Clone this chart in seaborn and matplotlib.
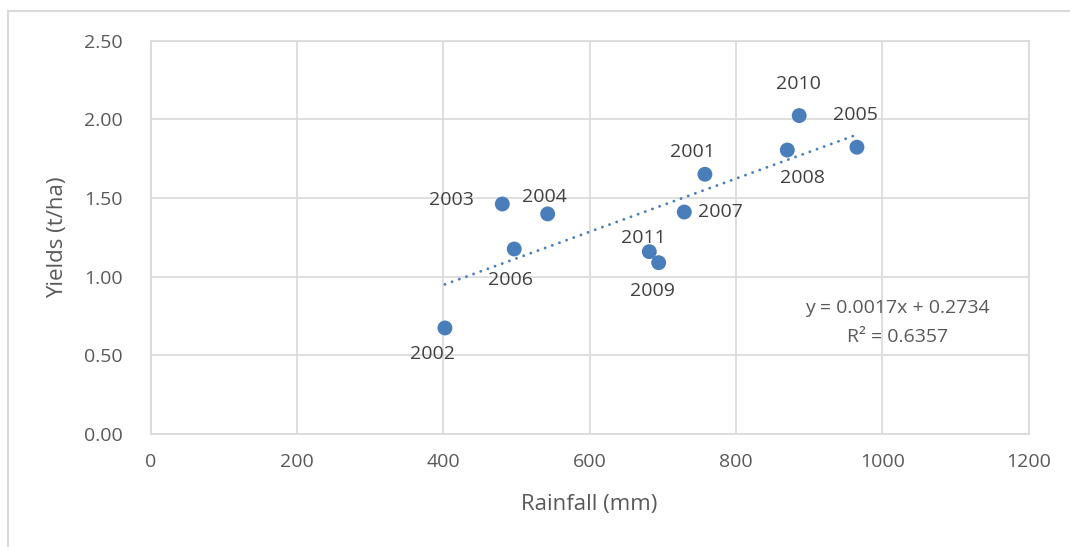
import numpy as np
import pandas as pd
import matplotlib
matplotlib.use("Agg")
import matplotlib.pyplot as plt
from matplotlib.lines import Line2D
import seaborn as sns

# ---- data ----
years = [2001, 2002, 2003, 2004, 2005, 2006, 2007, 2008, 2009, 2010, 2011]
rainfall = [757.6, 402.3, 480.7, 542.7, 965.4, 497.0, 729.4, 870.2, 694.4, 886.5, 681.6]
yields = [1.651, 0.674, 1.462, 1.399, 1.823, 1.176, 1.411, 1.805, 1.089, 2.024, 1.159]
x_ticks = [0, 200, 400, 600, 800, 1000, 1200]
y_ticks = [0.0, 0.5, 1.0, 1.5, 2.0, 2.5]
x_label = "Rainfall (mm)"
y_label = "Yields (t/ha)"
equation_text = "y = 0.0017x + 0.2734"
r2_text = "R\u00b2 = 0.6357"

df = pd.DataFrame({"year": years, "rainfall": rainfall, "yield": yields})

# label offsets in pixels (style)
label_offsets = {
    2003: (-51, 4), 2004: (-3, 17), 2006: (-4, -31), 2002: (-12, -26),
    2001: (-12, 22), 2007: (36, 0), 2011: (-6, 14), 2009: (-6, -28),
    2010: (-1, 32), 2005: (-2, 32), 2008: (15, -28),
}

sns.set_theme(style="white")
plt.rcParams["font.family"] = ["Open Sans", "DejaVu Sans"]

W, H = 1070, 547
fig = plt.figure(figsize=(W / 100, H / 100), dpi=100)
ax = fig.add_axes([150.6 / W, (H - 434) / H, (1028.6 - 150.6) / W, (434 - 40.7) / H])

blue = "#4a7ebb"
grid_c = "#d9d9d9"
tick_c = "#595959"
lab_c = "#404040"

sns.regplot(data=df, x="rainfall", y="yield", scatter=False, ci=None, ax=ax,
            color=blue, truncate=True,
            line_kws={"linestyle": (0, (0.01, 2.6)), "linewidth": 2.1,
                      "dash_capstyle": "round", "zorder": 2})
sns.scatterplot(data=df, x="rainfall", y="yield", ax=ax, color=blue, s=115,
                edgecolor="none", linewidth=0, zorder=3, legend=False)

for yr, xv, yv in zip(years, rainfall, yields):
    dx, dy = label_offsets[yr]
    ax.annotate(str(yr), (xv, yv), xytext=(dx, dy), textcoords="offset pixels",
                ha="center", va="center", fontsize=14, color=lab_c)

ax.set_xlim(0, 1200)
ax.set_ylim(0, 2.5)
ax.set_xticks(x_ticks)
ax.set_yticks(y_ticks)
ax.set_xticklabels([str(v) for v in x_ticks])
ax.set_yticklabels([f"{v:.2f}" for v in y_ticks])
ax.tick_params(axis="both", length=0, labelsize=14, labelcolor=tick_c)
ax.tick_params(axis="x", pad=14)
ax.tick_params(axis="y", pad=20)
ax.grid(True, color=grid_c, linewidth=1.2)
ax.set_axisbelow(True)
for sp in ax.spines.values():
    sp.set_visible(True)
    sp.set_color(grid_c)
    sp.set_linewidth(1.2)

ax.set_xlabel("")
ax.set_ylabel("")
ax.text(0.5, -0.1805, x_label, transform=ax.transAxes, ha="center", va="center",
        fontsize=16, color=tick_c)
ax.text(-0.1055, 0.5, y_label, transform=ax.transAxes, ha="center", va="center",
        rotation=90, fontsize=16, color=tick_c)

ax.text(1020.8, 0.801, equation_text, ha="center", va="center", fontsize=14, color=tick_c)
ax.text(1020.8, 0.617, r2_text, ha="center", va="center", fontsize=14, color=tick_c)

# outer chart border (top and left visible)
fig.add_artist(Line2D([7.5 / W, 7.5 / W], [0, (H - 11) / H], color=grid_c, lw=1.5,
                      transform=fig.transFigure))
fig.add_artist(Line2D([7.5 / W, 1], [(H - 11) / H, (H - 11) / H], color=grid_c, lw=1.5,
                      transform=fig.transFigure))

fig.savefig("out.png", dpi=100)
